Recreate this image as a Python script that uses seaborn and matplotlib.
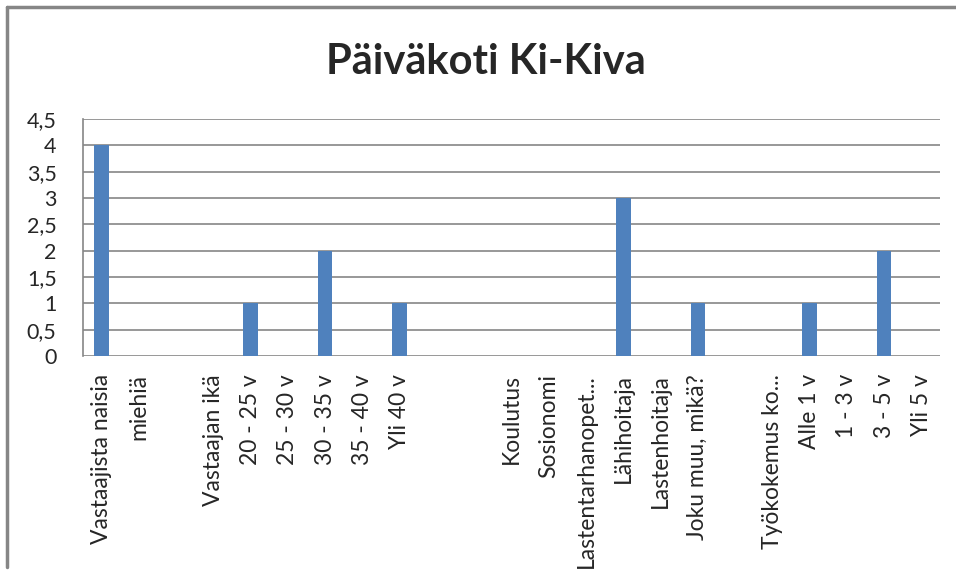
import pandas as pd
import seaborn as sns
import matplotlib.pyplot as plt
from matplotlib.lines import Line2D

# Chart data (blank categories are kept as separators, made unique with spaces)
labels = ["Vastaajista naisia", "miehiä", " ", "Vastaajan ikä",
          "20 - 25 v", "25 - 30 v", "30 - 35 v", "35 - 40 v", "Yli 40 v",
          "  ", "   ", "Koulutus", "Sosionomi", "Lastentarhanopet...",
          "Lähihoitaja", "Lastenhoitaja", "Joku muu, mikä?", "    ",
          "Työkokemus ko...", "Alle 1 v", "1 - 3 v", "3 - 5 v", "Yli 5 v"]
values = [4, 0, 0, 0, 1, 0, 2, 0, 1, 0, 0, 0, 0, 0, 3, 0, 1, 0, 0, 1, 0, 2, 0]
y_ticks = [0, 0.5, 1, 1.5, 2, 2.5, 3, 3.5, 4, 4.5]

data = pd.DataFrame({"kategoria": labels, "arvo": values})

sns.set_style("white")
plt.rcParams['font.family'] = ['Lato', 'DejaVu Sans']

fig = plt.figure(figsize=(9.56, 5.76), dpi=100)
ax = fig.add_axes([83 / 956, 1 - 356 / 576, (940 - 83) / 956, (356 - 119) / 576])

sns.barplot(data=data, x="kategoria", y="arvo", order=labels,
            color="#4F81BD", saturation=1, width=0.39, linewidth=0, ax=ax)

ax.set_ylim(0, 4.5)
ax.set_yticks(y_ticks)
ax.set_yticklabels([f"{t:g}".replace(".", ",") for t in y_ticks], fontsize=15.5)
ax.set_xticks(range(len(labels)))
ax.set_xticklabels(labels, rotation=90, fontsize=16.5, va="top")
ax.set_xlim(-0.5, len(labels) - 0.5)
ax.set_xlabel("")
ax.set_ylabel("")
ax.tick_params(axis="y", length=0, pad=19)
ax.tick_params(axis="x", length=0, pad=13)

ax.grid(axis="y", color="#868686", linewidth=1.2)
ax.set_axisbelow(True)
for side in ["top", "right", "bottom"]:
    ax.spines[side].set_visible(False)
ax.spines["left"].set_color("#868686")
ax.spines["left"].set_linewidth(1.2)

fig.text(486 / 956, 1 - 62 / 576, "Päiväkoti Ki-Kiva", ha="center", va="center",
         fontsize=30, fontweight="bold")

# outer frame of the chart (left and top edges visible)
fig.add_artist(Line2D([7 / 956, 7 / 956], [1 - 567 / 576, 1 - 7 / 576],
                      transform=fig.transFigure, color="#868686", linewidth=2.5))
fig.add_artist(Line2D([7 / 956, 1], [1 - 7 / 576, 1 - 7 / 576],
                      transform=fig.transFigure, color="#868686", linewidth=2.5))

fig.savefig("out.png", dpi=100)
